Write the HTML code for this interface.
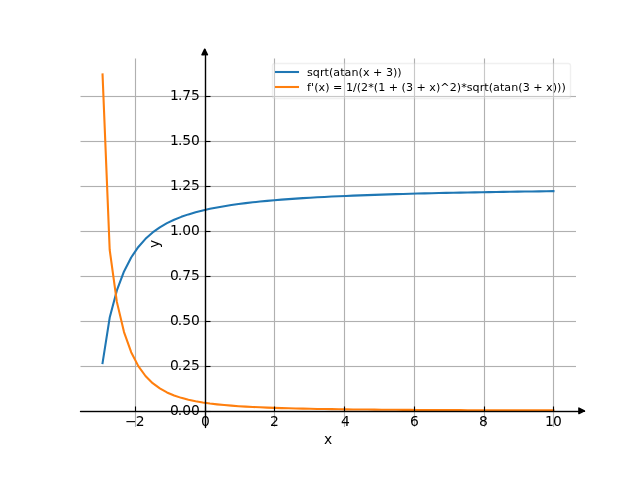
<!DOCTYPE html>
<html><head><meta charset="utf-8"><title>Plot</title><style>html,body{margin:0;padding:0;background:#fff;width:640px;height:480px;overflow:hidden}svg{display:block;will-change:transform}</style></head><body>
<svg width="640" height="480" viewBox="0 0 640 480" font-family="'DejaVu Sans', 'Liberation Sans', sans-serif"><defs><clipPath id="c"><rect x="80" y="58" width="496" height="369"/></clipPath></defs><rect x="0" y="0" width="640" height="480" fill="#ffffff"/>
<g fill="#b0b0b0" fill-opacity="0.063"><rect x="134" y="58.5" width="1" height="368.5"/><rect x="136" y="58.5" width="1" height="368.5"/><rect x="204" y="58.5" width="1" height="368.5"/><rect x="206" y="58.5" width="1" height="368.5"/><rect x="273" y="58.5" width="1" height="368.5"/><rect x="275" y="58.5" width="1" height="368.5"/><rect x="343" y="58.5" width="1" height="368.5"/><rect x="345" y="58.5" width="1" height="368.5"/><rect x="413" y="58.5" width="1" height="368.5"/><rect x="415" y="58.5" width="1" height="368.5"/><rect x="483" y="58.5" width="1" height="368.5"/><rect x="485" y="58.5" width="1" height="368.5"/><rect x="552" y="58.5" width="1" height="368.5"/><rect x="554" y="58.5" width="1" height="368.5"/><rect x="80.5" y="410" width="495.5" height="1"/><rect x="80.5" y="412" width="495.5" height="1"/><rect x="80.5" y="365" width="495.5" height="1"/><rect x="80.5" y="367" width="495.5" height="1"/><rect x="80.5" y="320" width="495.5" height="1"/><rect x="80.5" y="322" width="495.5" height="1"/><rect x="80.5" y="275" width="495.5" height="1"/><rect x="80.5" y="277" width="495.5" height="1"/><rect x="80.5" y="230" width="495.5" height="1"/><rect x="80.5" y="232" width="495.5" height="1"/><rect x="80.5" y="185" width="495.5" height="1"/><rect x="80.5" y="187" width="495.5" height="1"/><rect x="80.5" y="140" width="495.5" height="1"/><rect x="80.5" y="142" width="495.5" height="1"/><rect x="80.5" y="95" width="495.5" height="1"/><rect x="80.5" y="97" width="495.5" height="1"/></g>
<g fill="#b0b0b0"><rect x="135" y="58.5" width="1" height="368.5"/><rect x="205" y="58.5" width="1" height="368.5"/><rect x="274" y="58.5" width="1" height="368.5"/><rect x="344" y="58.5" width="1" height="368.5"/><rect x="414" y="58.5" width="1" height="368.5"/><rect x="484" y="58.5" width="1" height="368.5"/><rect x="553" y="58.5" width="1" height="368.5"/><rect x="80.5" y="411" width="495.5" height="1"/><rect x="80.5" y="366" width="495.5" height="1"/><rect x="80.5" y="321" width="495.5" height="1"/><rect x="80.5" y="276" width="495.5" height="1"/><rect x="80.5" y="231" width="495.5" height="1"/><rect x="80.5" y="186" width="495.5" height="1"/><rect x="80.5" y="141" width="495.5" height="1"/><rect x="80.5" y="96" width="495.5" height="1"/></g>
<path clip-path="url(#c)" d="M102.545 363.069L109.703 317.573L116.860 290.474L124.017 271.441L131.175 257.470L138.332 246.945L145.489 238.837L152.646 232.461L159.804 227.352L166.961 223.186L174.118 219.737L181.276 216.841L188.433 214.381L195.590 212.268L202.747 210.435L209.905 208.831L217.062 207.417L224.219 206.162L231.377 205.041L238.534 204.033L245.691 203.123L252.848 202.298L260.006 201.545L267.163 200.857L274.320 200.225L281.478 199.643L288.635 199.105L295.792 198.606L302.949 198.142L310.107 197.710L317.264 197.307L324.421 196.929L331.579 196.575L338.736 196.242L345.893 195.928L353.051 195.633L360.208 195.353L367.365 195.089L374.522 194.839L381.680 194.601L388.837 194.375L395.994 194.160L403.152 193.956L410.309 193.761L417.466 193.574L424.623 193.397L431.781 193.226L438.938 193.063L446.095 192.907L453.253 192.757L460.410 192.613L467.567 192.475L474.724 192.342L481.882 192.215L489.039 192.091L496.196 191.973L503.354 191.858L510.511 191.748L517.668 191.641L524.825 191.538L531.983 191.439L539.140 191.343L546.297 191.250L553.455 191.159" fill="none" stroke="#1f77b4" stroke-width="2.0833" stroke-linecap="square" stroke-linejoin="round"/>
<path clip-path="url(#c)" d="M102.545 74.400L109.703 249.919L116.860 301.881L124.017 332.080L131.175 352.169L138.332 366.105L145.489 375.998L152.646 383.162L159.804 388.452L166.961 392.434L174.118 395.487L181.276 397.867L188.433 399.751L195.590 401.264L202.747 402.496L209.905 403.509L217.062 404.352L224.219 405.061L231.377 405.661L238.534 406.173L245.691 406.614L252.848 406.996L260.006 407.330L267.163 407.622L274.320 407.879L281.478 408.107L288.635 408.309L295.792 408.491L302.949 408.653L310.107 408.799L317.264 408.931L324.421 409.051L331.579 409.160L338.736 409.259L345.893 409.350L353.051 409.433L360.208 409.509L367.365 409.579L374.522 409.644L381.680 409.704L388.837 409.760L395.994 409.811L403.152 409.859L410.309 409.904L417.466 409.946L424.623 409.985L431.781 410.021L438.938 410.055L446.095 410.087L453.253 410.117L460.410 410.146L467.567 410.172L474.724 410.197L481.882 410.221L489.039 410.244L496.196 410.265L503.354 410.285L510.511 410.304L517.668 410.322L524.825 410.339L531.983 410.356L539.140 410.371L546.297 410.386L553.455 410.400" fill="none" stroke="#ff7f0e" stroke-width="2.0833" stroke-linecap="square" stroke-linejoin="round"/>
<rect x="80" y="411" width="505" height="1" fill="#000"/>
<rect x="585" y="411" width="1" height="1" fill="#000" fill-opacity="0.078"/>
<g fill="#000" fill-opacity="0.194"><rect x="81" y="410" width="498" height="1"/><rect x="81" y="412" width="498" height="1"/></g>
<g fill="#000" fill-opacity="0.145"><rect x="80" y="410" width="1" height="1"/><rect x="80" y="412" width="1" height="1"/></g>
<rect x="79" y="411" width="1" height="1" fill="#000" fill-opacity="0.078"/>
<path d="M578.892 408.055L584.447 410.832L578.892 413.610Z" fill="#000" stroke="#000" stroke-width="1.3889" stroke-linejoin="round"/>
<rect x="205" y="49.5" width="1" height="378.5" fill="#000"/>
<g fill="#000" fill-opacity="0.194"><rect x="204" y="56" width="1" height="371"/><rect x="206" y="56" width="1" height="371"/></g>
<g fill="#000" fill-opacity="0.133"><rect x="204" y="427" width="1" height="1"/><rect x="206" y="427" width="1" height="1"/></g>
<rect x="205" y="428" width="1" height="1" fill="#000" fill-opacity="0.078"/>
<path d="M201.926 54.708L204.703 49.153L207.481 54.708Z" fill="#000" stroke="#000" stroke-width="1.3889" stroke-linejoin="round"/>
<g fill="#000" fill-opacity="0.056"><rect x="134" y="406.5" width="1" height="5"/><rect x="136" y="406.5" width="1" height="5"/><rect x="204" y="406.5" width="1" height="5"/><rect x="206" y="406.5" width="1" height="5"/><rect x="273" y="406.5" width="1" height="5"/><rect x="275" y="406.5" width="1" height="5"/><rect x="343" y="406.5" width="1" height="5"/><rect x="345" y="406.5" width="1" height="5"/><rect x="413" y="406.5" width="1" height="5"/><rect x="415" y="406.5" width="1" height="5"/><rect x="483" y="406.5" width="1" height="5"/><rect x="485" y="406.5" width="1" height="5"/><rect x="552" y="406.5" width="1" height="5"/><rect x="554" y="406.5" width="1" height="5"/><rect x="205.5" y="410" width="5" height="1"/><rect x="205.5" y="412" width="5" height="1"/><rect x="205.5" y="365" width="5" height="1"/><rect x="205.5" y="367" width="5" height="1"/><rect x="205.5" y="320" width="5" height="1"/><rect x="205.5" y="322" width="5" height="1"/><rect x="205.5" y="275" width="5" height="1"/><rect x="205.5" y="277" width="5" height="1"/><rect x="205.5" y="230" width="5" height="1"/><rect x="205.5" y="232" width="5" height="1"/><rect x="205.5" y="185" width="5" height="1"/><rect x="205.5" y="187" width="5" height="1"/><rect x="205.5" y="140" width="5" height="1"/><rect x="205.5" y="142" width="5" height="1"/><rect x="205.5" y="95" width="5" height="1"/><rect x="205.5" y="97" width="5" height="1"/></g>
<g fill="#000"><rect x="135" y="406.5" width="1" height="5"/><rect x="205" y="406.5" width="1" height="5"/><rect x="274" y="406.5" width="1" height="5"/><rect x="344" y="406.5" width="1" height="5"/><rect x="414" y="406.5" width="1" height="5"/><rect x="484" y="406.5" width="1" height="5"/><rect x="553" y="406.5" width="1" height="5"/><rect x="205.5" y="411" width="5" height="1"/><rect x="205.5" y="366" width="5" height="1"/><rect x="205.5" y="321" width="5" height="1"/><rect x="205.5" y="276" width="5" height="1"/><rect x="205.5" y="231" width="5" height="1"/><rect x="205.5" y="186" width="5" height="1"/><rect x="205.5" y="141" width="5" height="1"/><rect x="205.5" y="96" width="5" height="1"/></g>
<rect x="272.500" y="63.500" width="298.000" height="35.000" rx="2.222" fill="#ffffff" fill-opacity="0.3" stroke="#cccccc" stroke-opacity="0.3" stroke-width="1.3889"/>
<path d="M276 72H298" stroke="#1f77b4" stroke-width="2.0833" stroke-linecap="square"/>
<path d="M276 87H298" stroke="#ff7f0e" stroke-width="2.0833" stroke-linecap="square"/>
<text x="125.000 135.625" y="426.000" font-size="13.8889">−2</text>
<text x="201.000" y="426.000" font-size="13.8889">0</text>
<text x="270.000" y="426.000" font-size="13.8889">2</text>
<text x="341.000" y="426.000" font-size="13.8889">4</text>
<text x="410.000" y="426.000" font-size="13.8889">6</text>
<text x="479.000" y="426.000" font-size="13.8889">8</text>
<text x="545.000 552.875" y="426.000" font-size="13.8889">10</text>
<text x="324.000" y="444.000" font-size="13.8889">x</text>
<text x="170.000 177.750 182.125 190.875" y="415.000" font-size="13.8889">0.00</text>
<text x="170.000 177.750 182.125 190.875" y="370.000" font-size="13.8889">0.25</text>
<text x="170.000 177.750 182.125 190.875" y="325.000" font-size="13.8889">0.50</text>
<text x="170.000 177.750 182.125 190.875" y="280.000" font-size="13.8889">0.75</text>
<text x="170.000 177.875 182.250 191.000" y="235.000" font-size="13.8889">1.00</text>
<text x="170.000 177.875 182.250 191.000" y="190.000" font-size="13.8889">1.25</text>
<text x="170.000 177.875 182.250 191.000" y="145.000" font-size="13.8889">1.50</text>
<text x="170.000 177.875 182.250 191.000" y="100.000" font-size="13.8889">1.75</text>
<text x="159.148" y="248.025" font-size="13.8889" transform="rotate(-90 159.148 248.025)">y</text>
<text x="307.000 312.750 319.875 324.500 328.875 333.250 340.125 344.500 351.375 358.500 362.875 369.500 373.000 382.375 385.875 392.875 397.250" y="76.000" font-size="11.1111">sqrt(atan(x + 3))</text>
<text x="307.000 311.000 314.125 318.500 325.125 329.500 333.000 342.375 345.875 352.875 356.625 361.000 368.125 373.750 378.125 385.125 388.625 398.000 401.500 405.875 412.875 416.375 425.750 429.250 435.875 440.250 449.625 456.750 461.125 466.750 472.500 479.625 484.250 488.625 493.000 499.875 504.250 511.125 518.250 522.625 529.625 533.125 542.500 546.000 552.625 557.000 561.375" y="91.000" font-size="11.1111">f'(x) = 1/(2*(1 + (3 + x)^2)*sqrt(atan(3 + x)))</text></svg>
</body></html>
